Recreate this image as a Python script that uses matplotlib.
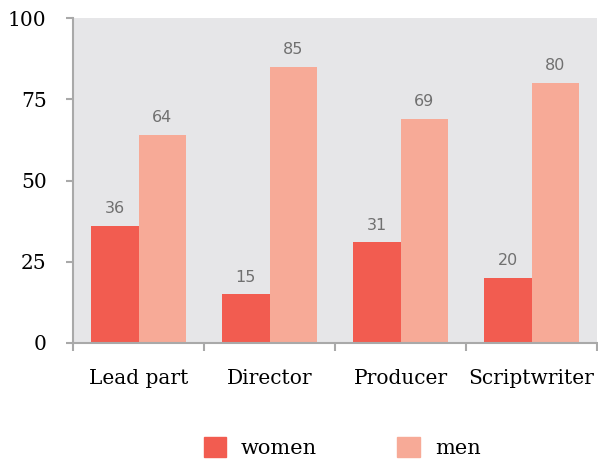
import numpy as np
import matplotlib.pyplot as plt
from matplotlib.patches import Patch

categories = ["Lead part", "Director", "Producer", "Scriptwriter"]
women = [36, 15, 31, 20]
men = [64, 85, 69, 80]
y_ticks = [0, 25, 50, 75, 100]

women_color = "#f25c50"
men_color = "#f7aa97"
spine_color = "#a9a9a9"

fig = plt.figure(figsize=(5.98, 4.62), dpi=100)
ax = fig.add_axes([73 / 598, 1 - 343 / 462, 524 / 598, 325 / 462])
ax.set_facecolor("#e6e6e8")

x = np.arange(len(categories))
w = 0.36
ax.bar(x - w / 2, women, w, color=women_color, zorder=2)
ax.bar(x + w / 2, men, w, color=men_color, zorder=2)

# подписи значений над столбцами
for i in range(len(categories)):
    ax.text(x[i] - w / 2, women[i] + 3, str(women[i]), ha="center", va="bottom",
            color="#707070", fontsize=11.5, family="DejaVu Sans")
    ax.text(x[i] + w / 2, men[i] + 3, str(men[i]), ha="center", va="bottom",
            color="#707070", fontsize=11.5, family="DejaVu Sans")

ax.set_xlim(-0.5, len(categories) - 0.5)
ax.set_ylim(0, 100)
ax.set_yticks(y_ticks)
ax.set_yticklabels([str(v) for v in y_ticks], family="DejaVu Serif", fontsize=14.5)

# тики оси x стоят на границах категорий
ax.set_xticks(np.arange(-0.5, len(categories), 1.0))
ax.set_xticklabels([])
ax.set_xticks(x, minor=True)
ax.set_xticklabels(categories, minor=True, family="DejaVu Serif", fontsize=14.5)
ax.tick_params(axis="x", which="minor", length=0, pad=19)
ax.tick_params(axis="x", which="major", length=6, color=spine_color, width=1.5)
ax.tick_params(axis="y", length=5, color=spine_color, width=1.5, pad=14)

for s in ["top", "right"]:
    ax.spines[s].set_visible(False)
for s in ["left", "bottom"]:
    ax.spines[s].set_color(spine_color)
    ax.spines[s].set_linewidth(1.5)

handles = [Patch(color=women_color, label="women"), Patch(color=men_color, label="men")]
fig.legend(handles=handles, loc="center", bbox_to_anchor=(0.572, 0.032), ncol=2,
           frameon=False, prop={"family": "DejaVu Serif", "size": 15},
           handlelength=1.1, handleheight=1.1, columnspacing=3.85, handletextpad=0.7)

fig.savefig("out.png", dpi=100)
